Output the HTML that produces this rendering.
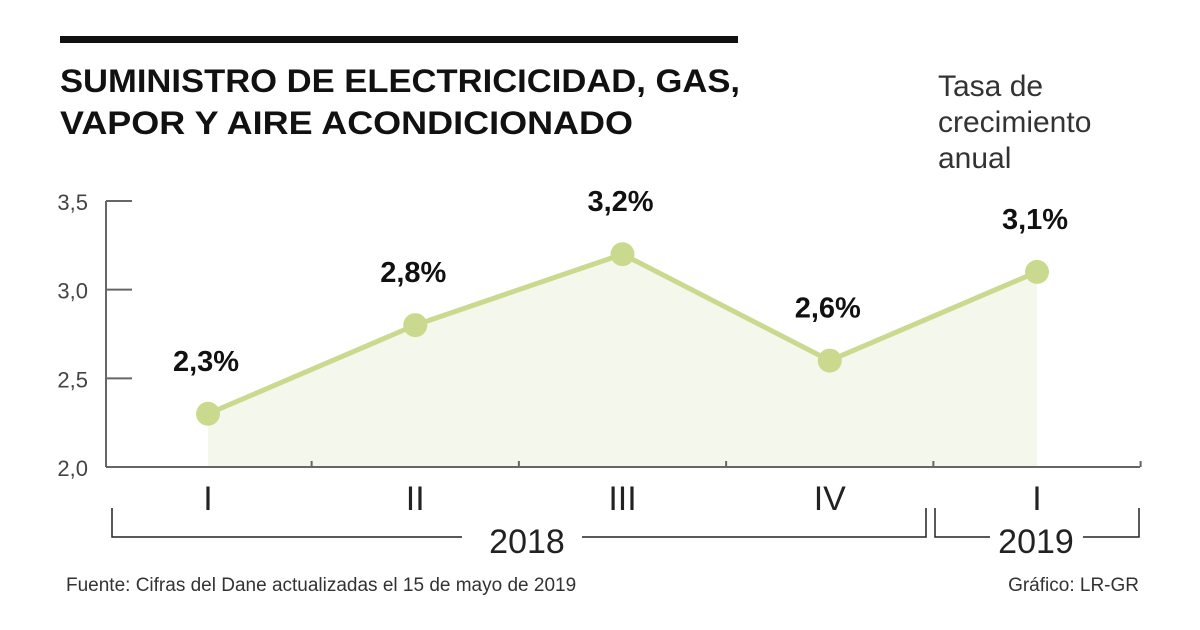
<!DOCTYPE html>
<html><head><meta charset="utf-8"><style>
html,body{margin:0;padding:0;background:#fff;}
svg{display:block;font-family:"Liberation Sans",sans-serif;}
</style></head><body>
<svg id="chart" width="1200" height="630" viewBox="0 0 1200 630" xmlns="http://www.w3.org/2000/svg">
<rect x="60" y="36" width="678" height="7" fill="#111"/>
<text x="60" y="92" font-size="32" font-weight="bold" fill="#111" textLength="680" lengthAdjust="spacingAndGlyphs">SUMINISTRO DE ELECTRICICIDAD, GAS,</text>
<text x="60" y="134" font-size="32" font-weight="bold" fill="#111" textLength="573" lengthAdjust="spacingAndGlyphs">VAPOR Y AIRE ACONDICIONADO</text>
<g font-size="30" fill="#333">
<text x="938" y="96">Tasa de</text>
<text x="938" y="132">crecimiento</text>
<text x="938" y="168">anual</text>
</g>
<g id="plot"></g>
<g stroke="#222" stroke-width="1.5" fill="none">
<polyline points="112,508 112,537 462,537"/>
<polyline points="582,537 926,537 926,508"/>
<polyline points="935,508 935,537 990,537"/>
<polyline points="1083,537 1139,537 1139,508"/>
</g>
<text x="527" y="553" font-size="34" fill="#222" text-anchor="middle">2018</text>
<text x="1036" y="553" font-size="34" fill="#222" text-anchor="middle">2019</text>
<text x="66" y="591" font-size="19" fill="#333">Fuente: Cifras del Dane actualizadas el 15 de mayo de 2019</text>
<text x="1139" y="591" font-size="19" fill="#333" text-anchor="end">Gráfico: LR-GR</text>
</svg>
<script>
const categories = ["I","II","III","IV","I"];
const values = [2.3, 2.8, 3.2, 2.6, 3.1];
const valueLabels = ["2,3%","2,8%","3,2%","2,6%","3,1%"];
const yTicks = [2.0, 2.5, 3.0, 3.5];
const yTickLabels = ["2,0","2,5","3,0","3,5"];

const NS = "http://www.w3.org/2000/svg";
const g = document.getElementById('plot');
const x0 = 106, x1 = 1140, yTop = 201, yBot = 467;
const yMin = 2.0, yMax = 3.5;
function yScale(v){ return yBot - (v - yMin) / (yMax - yMin) * (yBot - yTop); }
function xScale(i){ return 208 + i * 207.25; }
function mk(tag, attrs){ const e = document.createElementNS(NS, tag); for (const k in attrs) e.setAttribute(k, attrs[k]); g.appendChild(e); return e; }

// area
let d = "M" + xScale(0) + "," + yBot;
values.forEach((v,i)=>{ d += " L" + xScale(i) + "," + yScale(v); });
d += " L" + xScale(values.length-1) + "," + yBot + " Z";
const area = mk('path', {d: d, fill: "#f4f7ec"});



// axes
const ya = mk('line', {x1:x0, y1:yTop, x2:x0, y2:yBot, stroke:"#666", "stroke-width":2});


const xa = mk('line', {x1:x0, y1:yBot, x2:x1, y2:yBot, stroke:"#666", "stroke-width":2});



yTicks.forEach((t,i)=>{
  const y = yScale(t);
  if (i > 0) {
    const tk = mk('line', {x1:x0, y1:y, x2:132, y2:y, stroke:"#666", "stroke-width":2});
    
    
  }
  const lb = mk('text', {x:88, y:y+9, "font-size":22, fill:"#444", "text-anchor":"end"});
  lb.textContent = yTickLabels[i];
  
  
});

// x separator ticks
for (let i = 0; i < categories.length; i++) {
  const xs = (xScale(i) + xScale(i+1)) / 2;
  const tk = mk('line', {x1:xs, y1:yBot-6, x2:xs, y2:yBot, stroke:"#666", "stroke-width":2});
  
  
}

categories.forEach((c,i)=>{
  const t = mk('text', {x:xScale(i), y:510, "font-size":34, fill:"#222", "text-anchor":"middle"});
  t.textContent = c;
  
  
});

// line
const pts = values.map((v,i)=> xScale(i) + "," + yScale(v)).join(" ");
const ln = mk('polyline', {points: pts, fill:"none", stroke:"#c9da8f", "stroke-width":5, "stroke-linejoin":"round"});



values.forEach((v,i)=>{
  const c = mk('circle', {cx:xScale(i), cy:yScale(v), r:12, fill:"#c9da8f"});
  
  
  const t = mk('text', {x:xScale(i)-2, y:yScale(v)-43, "font-size":29, "font-weight":"bold", fill:"#111", "text-anchor":"middle"});
  t.textContent = valueLabels[i];
  
  
});
</script>
</body></html>
